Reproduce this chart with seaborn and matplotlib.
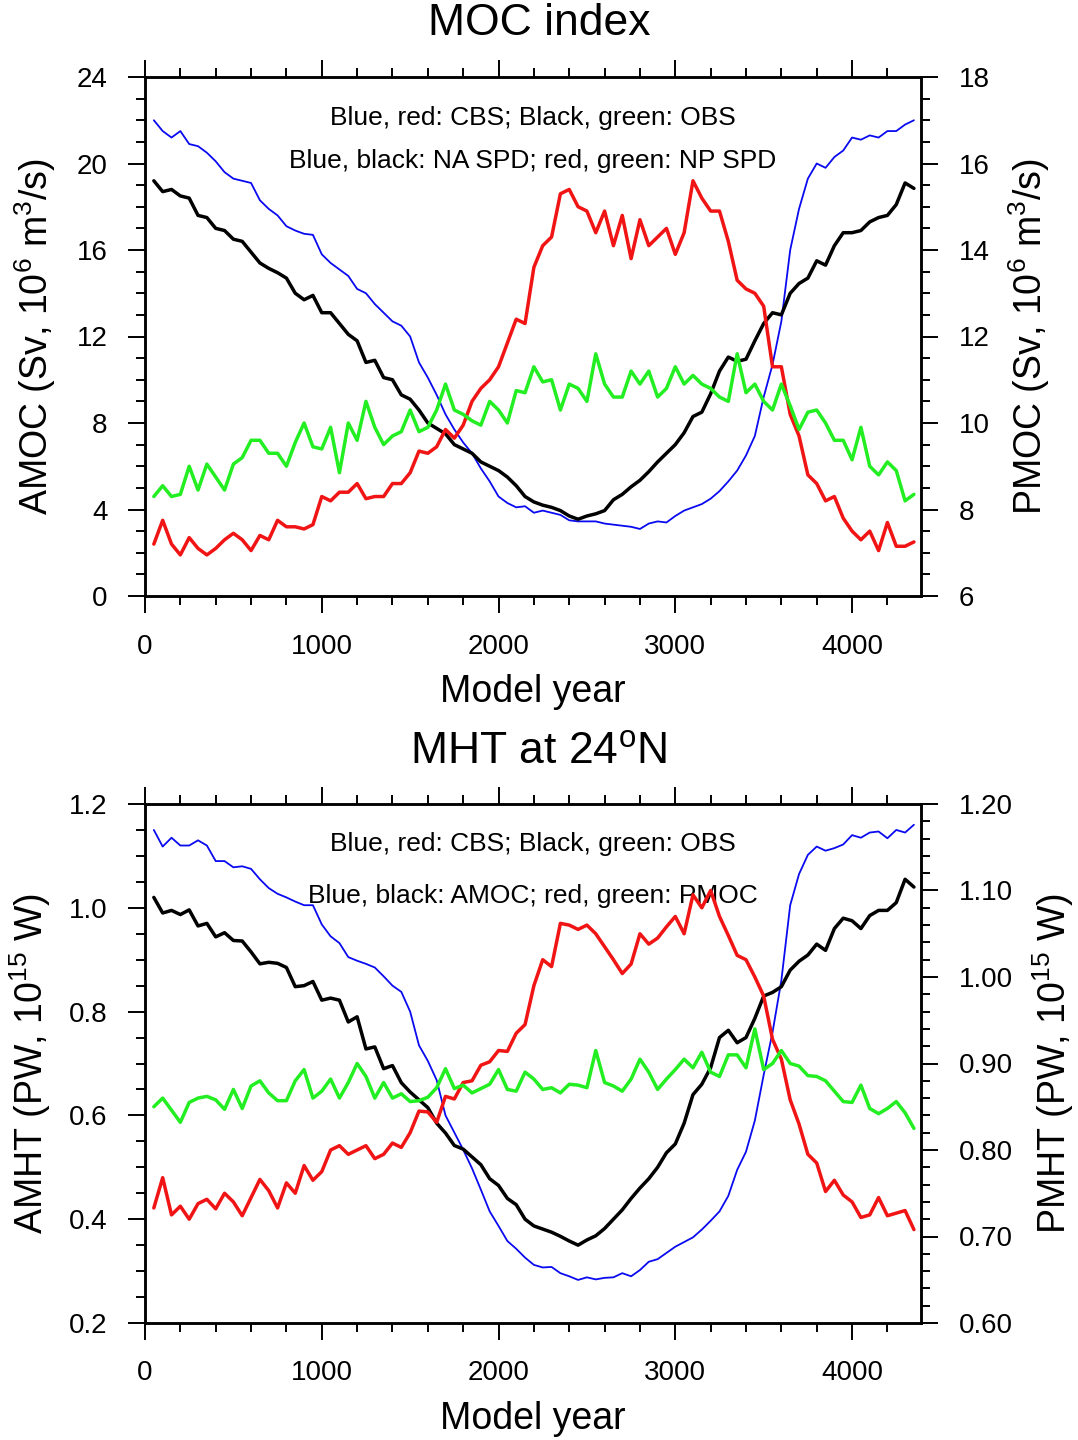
import numpy as np
import matplotlib
matplotlib.use("Agg")
import matplotlib.pyplot as plt
from matplotlib.ticker import MultipleLocator, FormatStrFormatter
import seaborn as sns

# ---------------- data ----------------
years = np.arange(50, 4351, 50)

# MOC index, left axis (AMOC, Sv)
amoc_cbs = [22.0, 21.5, 21.2, 21.5, 20.9, 20.8, 20.5, 20.1, 19.6, 19.3,
            19.2, 19.1, 18.3, 17.9, 17.6, 17.1, 16.9, 16.75, 16.7, 15.8,
            15.4, 15.1, 14.8, 14.2, 14.0, 13.5, 13.1, 12.7, 12.5, 12.0,
            10.8, 10.1, 9.3, 8.4, 7.7, 7.1, 6.6, 5.9, 5.3, 4.6,
            4.3, 4.1, 4.15, 3.85, 3.95, 3.85, 3.75, 3.5, 3.45, 3.45,
            3.45, 3.35, 3.3, 3.25, 3.2, 3.1, 3.35, 3.45, 3.4, 3.7,
            3.95, 4.1, 4.25, 4.5, 4.85, 5.3, 5.8, 6.5, 7.4, 9.2,
            10.7, 12.7, 16.0, 17.9, 19.3, 20.0, 19.8, 20.3, 20.6, 21.2,
            21.1, 21.3, 21.2, 21.5, 21.5, 21.8, 22.0]
amoc_obs = [19.2, 18.7, 18.8, 18.5, 18.4, 17.6, 17.5, 17.0, 16.9, 16.5,
            16.4, 15.9, 15.4, 15.15, 14.95, 14.7, 14.0, 13.7, 13.9, 13.1,
            13.1, 12.6, 12.1, 11.8, 10.8, 10.9, 10.1, 10.0, 9.3, 9.1,
            8.6, 8.0, 7.75, 7.5, 7.0, 6.8, 6.6, 6.2, 6.0, 5.8,
            5.5, 5.1, 4.6, 4.35, 4.2, 4.1, 3.95, 3.7, 3.55, 3.7,
            3.8, 3.95, 4.45, 4.7, 5.05, 5.35, 5.75, 6.2, 6.6, 7.0,
            7.55, 8.3, 8.5, 9.35, 10.4, 11.05, 10.85, 10.95, 11.8, 12.6,
            13.1, 13.0, 14.0, 14.45, 14.7, 15.5, 15.3, 16.2, 16.8, 16.8,
            16.9, 17.3, 17.5, 17.6, 18.1, 19.1, 18.85]
# MOC index, right axis (PMOC, Sv)
pmoc_cbs = [7.2, 7.75, 7.2, 6.95, 7.35, 7.1, 6.95, 7.1, 7.3, 7.45,
            7.3, 7.05, 7.4, 7.3, 7.75, 7.6, 7.6, 7.55, 7.65, 8.3,
            8.2, 8.4, 8.4, 8.6, 8.25, 8.3, 8.3, 8.6, 8.6, 8.85,
            9.35, 9.3, 9.45, 9.85, 9.65, 9.95, 10.5, 10.8, 11.0, 11.3,
            11.85, 12.4, 12.3, 13.6, 14.1, 14.3, 15.3, 15.4, 15.0, 14.9,
            14.4, 14.9, 14.1, 14.8, 13.8, 14.7, 14.1, 14.3, 14.5, 13.9,
            14.4, 15.6, 15.2, 14.9, 14.9, 14.2, 13.3, 13.1, 13.0, 12.7,
            11.3, 11.3, 10.2, 9.7, 8.8, 8.6, 8.2, 8.3, 7.8, 7.5,
            7.3, 7.5, 7.05, 7.7, 7.15, 7.15, 7.25]
pmoc_obs = [8.3, 8.55, 8.3, 8.35, 9.0, 8.45, 9.05, 8.75, 8.45, 9.05,
            9.2, 9.6, 9.6, 9.3, 9.3, 9.0, 9.55, 10.0, 9.45, 9.4,
            9.9, 8.85, 10.0, 9.6, 10.5, 9.9, 9.5, 9.7, 9.8, 10.3,
            9.8, 9.9, 10.3, 10.9, 10.3, 10.2, 10.05, 9.95, 10.5, 10.3,
            10.0, 10.75, 10.7, 11.3, 10.95, 11.0, 10.3, 10.9, 10.8, 10.5,
            11.6, 10.9, 10.6, 10.6, 11.2, 10.9, 11.2, 10.6, 10.8, 11.3,
            10.9, 11.1, 10.9, 10.8, 10.6, 10.5, 11.6, 10.7, 10.9, 10.5,
            10.3, 10.9, 10.4, 9.85, 10.25, 10.3, 10.0, 9.6, 9.6, 9.15,
            9.9, 9.0, 8.8, 9.1, 8.9, 8.2, 8.35]

# MHT at 24N, left axis (AMHT, PW)
amht_cbs = [1.15, 1.118, 1.135, 1.12, 1.12, 1.13, 1.12, 1.09, 1.09, 1.078,
            1.08, 1.075, 1.055, 1.038, 1.027, 1.02, 1.012, 1.005, 1.005, 0.968,
            0.945, 0.932, 0.905, 0.898, 0.892, 0.885, 0.868, 0.85, 0.838, 0.80,
            0.735, 0.705, 0.668, 0.60, 0.567, 0.534, 0.498, 0.457, 0.415, 0.387,
            0.358, 0.343, 0.326, 0.312, 0.307, 0.308, 0.296, 0.29, 0.283, 0.288,
            0.284, 0.287, 0.288, 0.296, 0.29, 0.302, 0.318, 0.323, 0.335, 0.347,
            0.356, 0.365, 0.38, 0.397, 0.415, 0.445, 0.495, 0.53, 0.59, 0.678,
            0.76, 0.86, 1.005, 1.065, 1.102, 1.118, 1.11, 1.115, 1.122, 1.14,
            1.135, 1.145, 1.147, 1.134, 1.15, 1.145, 1.16]
amht_obs = [1.02, 0.99, 0.995, 0.987, 0.996, 0.965, 0.97, 0.944, 0.952, 0.937,
            0.936, 0.915, 0.892, 0.895, 0.893, 0.885, 0.848, 0.85, 0.858, 0.822,
            0.826, 0.822, 0.78, 0.79, 0.728, 0.732, 0.69, 0.696, 0.663, 0.645,
            0.63, 0.615, 0.585, 0.566, 0.542, 0.535, 0.52, 0.505, 0.478, 0.465,
            0.44, 0.428, 0.40, 0.387, 0.381, 0.375, 0.367, 0.358, 0.35, 0.36,
            0.368, 0.382, 0.40, 0.418, 0.44, 0.46, 0.478, 0.50, 0.528, 0.545,
            0.585, 0.64, 0.66, 0.692, 0.75, 0.764, 0.74, 0.75, 0.787, 0.83,
            0.837, 0.848, 0.88, 0.897, 0.909, 0.93, 0.918, 0.96, 0.98, 0.975,
            0.96, 0.985, 0.995, 0.995, 1.01, 1.055, 1.04]
# MHT at 24N, right axis (PMHT, PW)
pmht_cbs = [0.733, 0.768, 0.725, 0.735, 0.72, 0.738, 0.743, 0.732, 0.75, 0.74,
            0.724, 0.745, 0.766, 0.753, 0.733, 0.762, 0.75, 0.782, 0.765, 0.775,
            0.80, 0.805, 0.795, 0.80, 0.805, 0.79, 0.795, 0.808, 0.803, 0.82,
            0.845, 0.844, 0.832, 0.862, 0.859, 0.878, 0.88, 0.898, 0.902, 0.915,
            0.914, 0.935, 0.945, 0.99, 1.02, 1.012, 1.062, 1.06, 1.055, 1.06,
            1.05, 1.035, 1.02, 1.004, 1.015, 1.05, 1.038, 1.045, 1.058, 1.07,
            1.05, 1.095, 1.08, 1.10, 1.07, 1.048, 1.025, 1.02, 1.0, 0.978,
            0.928, 0.905, 0.858, 0.83, 0.795, 0.785, 0.752, 0.765, 0.748, 0.74,
            0.722, 0.725, 0.745, 0.724, 0.727, 0.73, 0.708]
pmht_obs = [0.85, 0.86, 0.846, 0.832, 0.855, 0.86, 0.862, 0.858, 0.847, 0.87,
            0.848, 0.874, 0.88, 0.866, 0.857, 0.857, 0.88, 0.893, 0.86, 0.868,
            0.882, 0.86, 0.878, 0.90, 0.885, 0.86, 0.878, 0.86, 0.865, 0.856,
            0.857, 0.861, 0.872, 0.894, 0.871, 0.875, 0.866, 0.871, 0.876, 0.893,
            0.87, 0.868, 0.89, 0.882, 0.87, 0.872, 0.866, 0.876, 0.875, 0.872,
            0.915, 0.878, 0.874, 0.868, 0.882, 0.905, 0.89, 0.87, 0.882, 0.893,
            0.905, 0.895, 0.913, 0.89, 0.885, 0.91, 0.91, 0.895, 0.94, 0.893,
            0.90, 0.915, 0.90, 0.897, 0.886, 0.885, 0.88, 0.868, 0.856, 0.855,
            0.875, 0.848, 0.842, 0.848, 0.856, 0.843, 0.825]

# ---------------- style ----------------
sns.set_style("ticks")
plt.rcParams["font.family"] = ["Liberation Sans", "DejaVu Sans"]
plt.rcParams["mathtext.default"] = "regular"
plt.rcParams["text.color"] = "black"
plt.rcParams["axes.labelcolor"] = "black"
plt.rcParams["xtick.color"] = "black"
plt.rcParams["ytick.color"] = "black"
plt.rcParams["axes.edgecolor"] = "black"

BLUE = "#0a0af0"
RED = "#f01414"
GREEN = "#22ee22"
BLACK = "#000000"

W, H = 1078, 1440
fig = plt.figure(figsize=(W / 100, H / 100), dpi=100)
fig.patch.set_facecolor("white")


def px_rect(left, top, right, bottom):
    return [left / W, 1 - bottom / H, (right - left) / W, (bottom - top) / H]


def style_axes(ax, ax2, ylim_l, ylim_r, major_l, minor_l, major_r, minor_r,
               fmt_l, fmt_r):
    ax.set_xlim(0, 4390)
    ax.set_ylim(*ylim_l)
    ax2.set_ylim(*ylim_r)
    ax.xaxis.set_major_locator(MultipleLocator(1000))
    ax.xaxis.set_minor_locator(MultipleLocator(200))
    ax.yaxis.set_major_locator(MultipleLocator(major_l))
    ax.yaxis.set_minor_locator(MultipleLocator(minor_l))
    ax2.yaxis.set_major_locator(MultipleLocator(major_r))
    ax2.yaxis.set_minor_locator(MultipleLocator(minor_r))
    ax.yaxis.set_major_formatter(FormatStrFormatter(fmt_l))
    ax2.yaxis.set_major_formatter(FormatStrFormatter(fmt_r))
    for a in (ax, ax2):
        for s in a.spines.values():
            s.set_visible(True)
            s.set_linewidth(1.8)
            s.set_color("black")
    ax.tick_params(axis="x", which="both", direction="out", top=True,
                   bottom=True, labeltop=False, colors="black")
    ax.tick_params(axis="both", which="major", length=12, width=1.4,
                   labelsize=20, pad=15, colors="black")
    ax.tick_params(axis="both", which="minor", length=6.5, width=1.4,
                   colors="black")
    ax.tick_params(axis="y", which="both", direction="out", left=True,
                   right=False)
    ax2.tick_params(axis="y", which="both", direction="out", right=True,
                    left=False, colors="black")
    ax2.tick_params(axis="y", which="major", length=12, width=1.4,
                    labelsize=20, pad=15)
    ax2.tick_params(axis="y", which="minor", length=6.5, width=1.4)
    ax.set_xlabel("Model year", fontsize=27, color="black")
    ax.xaxis.set_label_coords(0.5, -0.185)
    ax.xaxis.label.set_va("center")


def draw_series(ax, y, color, lw, z):
    sns.lineplot(x=years, y=y, ax=ax, color=color, linewidth=lw,
                 zorder=z, legend=False)


# ---------------- top panel: MOC index ----------------
ax1 = fig.add_axes(px_rect(145, 77, 921, 596))
ax1r = ax1.twinx()
draw_series(ax1, amoc_cbs, BLUE, 1.3, 3)
draw_series(ax1, amoc_obs, BLACK, 2.5, 4)
draw_series(ax1r, pmoc_cbs, RED, 2.5, 3)
draw_series(ax1r, pmoc_obs, GREEN, 2.5, 4)
style_axes(ax1, ax1r, (0, 24), (6, 18), 4, 1, 2, 0.5, "%d", "%d")
ax1.set_ylabel(r"AMOC (Sv, 10$^6$ m$^3$/s)", fontsize=27, color="black")
ax1.yaxis.set_label_coords(-0.142, 0.5)
ax1.yaxis.label.set_va("center")
ax1r.set_ylabel(r"PMOC (Sv, 10$^6$ m$^3$/s)", fontsize=27, rotation=90,
                color="black")
ax1r.yaxis.set_label_coords(1.14, 0.5)
ax1r.yaxis.label.set_va("center")
ax1.text(0.5, 0.921, "Blue, red: CBS; Black, green: OBS", transform=ax1.transAxes,
         ha="center", va="center", fontsize=19, zorder=1, color="black")
ax1.text(0.5, 0.838, "Blue, black: NA SPD; red, green: NP SPD",
         transform=ax1.transAxes, ha="center", va="center", fontsize=19,
         zorder=1, color="black")
fig.text(0.5, 1 - 35 / H, "MOC index", ha="center", va="baseline",
         fontsize=32, color="black")

# ---------------- bottom panel: MHT ----------------
ax2 = fig.add_axes(px_rect(145, 804, 921, 1323))
ax2r = ax2.twinx()
draw_series(ax2, amht_cbs, BLUE, 1.3, 3)
draw_series(ax2, amht_obs, BLACK, 2.5, 4)
draw_series(ax2r, pmht_cbs, RED, 2.5, 3)
draw_series(ax2r, pmht_obs, GREEN, 2.5, 4)
style_axes(ax2, ax2r, (0.2, 1.2), (0.6, 1.2), 0.2, 0.05, 0.1, 0.02,
           "%.1f", "%.2f")
ax2.set_ylabel(r"AMHT (PW, 10$^{15}$ W)", fontsize=27, color="black")
ax2.yaxis.set_label_coords(-0.148, 0.5)
ax2.yaxis.label.set_va("center")
ax2r.set_ylabel(r"PMHT (PW, 10$^{15}$ W)", fontsize=27, rotation=90,
                color="black")
ax2r.yaxis.set_label_coords(1.17, 0.5)
ax2r.yaxis.label.set_va("center")
ax2.text(0.5, 0.923, "Blue, red: CBS; Black, green: OBS", transform=ax2.transAxes,
         ha="center", va="center", fontsize=19, zorder=1, color="black")
ax2.text(0.5, 0.823, "Blue, black: AMOC; red, green: PMOC",
         transform=ax2.transAxes, ha="center", va="center", fontsize=19,
         zorder=1, color="black")
fig.text(0.5, 1 - 764 / H, r"MHT at 24$^{o}$N", ha="center", va="baseline",
         fontsize=32, color="black")

fig.savefig("out.png", dpi=100, facecolor="white")
